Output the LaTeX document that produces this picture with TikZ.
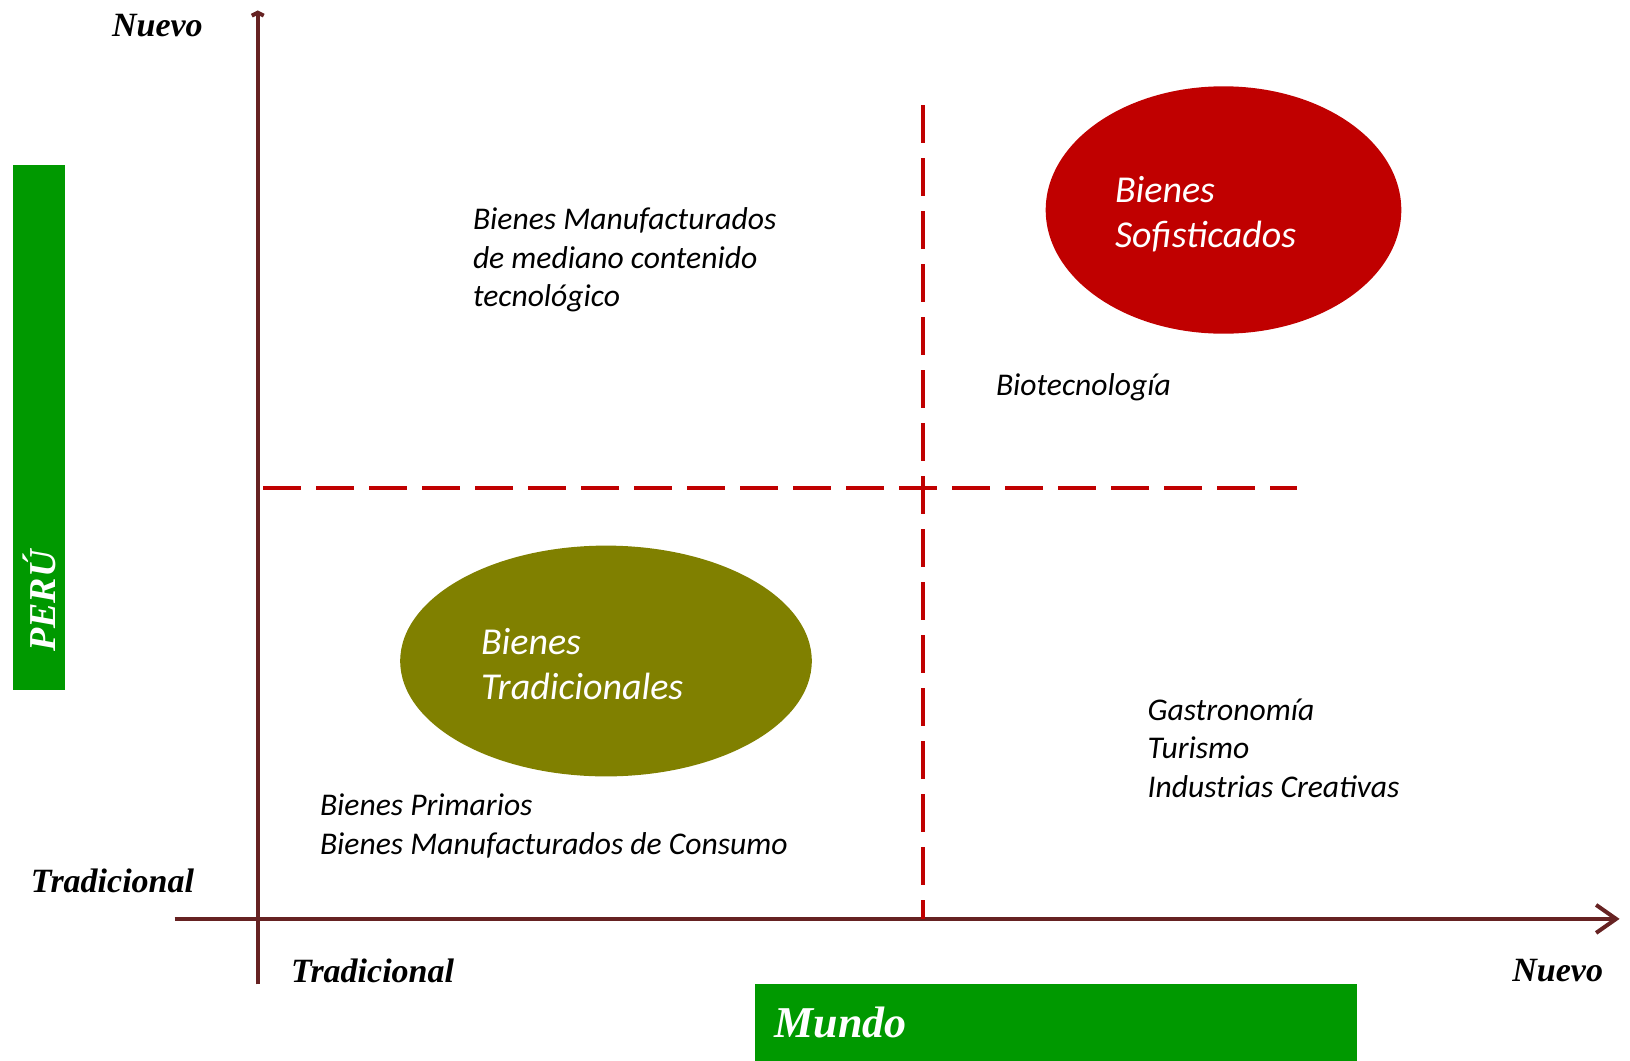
\documentclass[tikz,border=0pt]{standalone}
\usepackage{fontspec}
\setmainfont{Carlito}
\newfontfamily\axisfont{Liberation Serif}
\usetikzlibrary{arrows.meta,shapes.geometric}
\definecolor{axisred}{RGB}{102,34,34}
\definecolor{dashred}{RGB}{192,0,0}
\definecolor{olivegood}{RGB}{128,128,0}
\definecolor{boxgreen}{RGB}{0,153,0}
\begin{document}
\begin{tikzpicture}[x=0.5pt,y=-0.5pt,
	every node/.style={inner sep=0,outer sep=0},
	axis/.style={draw=axisred,line width=2pt},
	divider/.style={draw=dashred,line width=2pt,dash pattern=on 19pt off 7.5pt},
	blob/.style={ellipse,draw=none,fill=#1},
	tag/.style={font=\axisfont\bfseries\itshape\fontsize{17}{20}\selectfont},
	item/.style={font=\itshape\fontsize{15.8}{19.3}\selectfont,align=left,anchor=west},
	inside/.style={font=\itshape\fontsize{19}{22.4}\selectfont,text=white,align=left,anchor=west},
	band/.style={fill=boxgreen,draw=none},
	bandtext/.style={text=white,font=\axisfont\bfseries\itshape\fontsize{#1}{#1}\selectfont}]
\useasboundingbox (0,0) rectangle (1630,1061);
% axes
\coordinate (ybot) at (257.8,984.4);
\coordinate (ytop) at (257.8,10.4);
\coordinate (xleft) at (174.6,918.9);
\coordinate (xright) at (1619.6,918.9);
\draw[axis,-{Straight Barb[length=1.5pt,width=6pt]}] (ybot) -- (ytop);
\draw[axis,-{Straight Barb[length=10pt,width=14pt]}] (xleft) -- (xright);
% quadrants
\coordinate (hleft) at (263,487.5);
\coordinate (hright) at (1297.3,487.5);
\coordinate (vtop) at (923,105);
\coordinate (vbot) at (923,919);
\draw[divider] (hleft) -- (hright);
\draw[divider] (vtop) -- (vbot);
% ellipses
\node[blob=dashred,minimum width=177.8pt,minimum height=123.7pt] (sofis) at (1223.5,210) {};
\node[blob=olivegood,minimum width=205.8pt,minimum height=115.4pt] (trad) at (606,661) {};
\node[inside] (sofistxt) at (1115,214) {Bienes\\Sofisticados};
\node[inside] (tradtxt) at (481,664) {Bienes\\Tradicionales};
% items
\node[item] (medio) at (473,260) {Bienes Manufacturados\\de mediano contenido\\tecnológico};
\node[item] (bio) at (996,387) {Biotecnología};
\node[item] (serv) at (1147.6,748) {Gastronomía\\Turismo\\Industrias Creativas};
\node[item] (prim) at (320,826) {Bienes Primarios\\Bienes Manufacturados de Consumo};
% axis labels
\node[tag,anchor=east] (ynuevo) at (202.7,26) {Nuevo};
\node[tag,anchor=west] (ytrad) at (31,880.5) {Tradicional};
\node[tag,anchor=west] (xtrad) at (291,970.5) {Tradicional};
\node[tag,anchor=east] (xnuevo) at (1603,970.5) {Nuevo};
% bands
\node[band,minimum width=26pt,minimum height=262.5pt] (peru) at (39,427.5) {};
\node[bandtext=19,rotate=90] (perutxt) at (39.5,601) {PERÚ};
\node[band,minimum width=300.9pt,minimum height=38.3pt] (mundo) at (1055.6,1022.7) {};
\node[bandtext=22,anchor=west] (mundotxt) at (774.5,1022) {Mundo};
\end{tikzpicture}
\end{document}
